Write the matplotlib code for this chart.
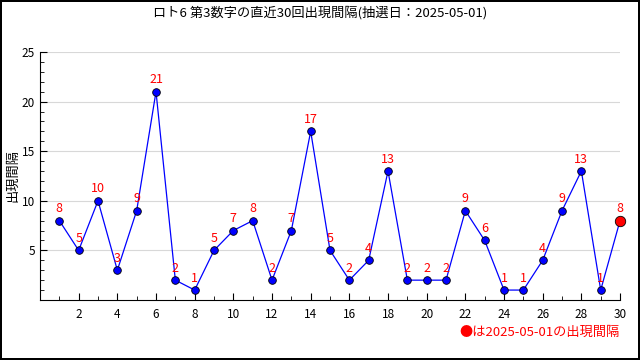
import matplotlib
matplotlib.use("Agg")
import matplotlib.pyplot as plt
from matplotlib.ticker import MultipleLocator

plt.rcParams['font.family'] = ['Noto Sans CJK JP', 'DejaVu Sans']

# データ
kaisu = list(range(1, 31))
kankaku = [8, 5, 10, 3, 9, 21, 2, 1, 5, 7, 8, 2, 7, 17, 5, 2, 4, 13,
           2, 2, 2, 9, 6, 1, 1, 4, 9, 13, 1, 8]
title = "ロト6 第3数字の直近30回出現間隔(抽選日：2025-05-01)"
last_date = "2025-05-01"

fig = plt.figure(figsize=(6.4, 3.6), dpi=100)
fig.patch.set_edgecolor('black')
fig.patch.set_linewidth(1.5)
ax = fig.add_axes([0.0625, 0.1667, 0.9063, 0.6889])

ax.plot(kaisu, kankaku, color='blue', lw=0.9, marker='o', ms=5.5,
        mfc='blue', mec='black', mew=0.6, zorder=3, clip_on=False)
# 最新回は赤
ax.plot(kaisu[-1], kankaku[-1], 'o', ms=7.5, mfc='red', mec='black', mew=0.6,
        zorder=4, clip_on=False)

for x, y in zip(kaisu, kankaku):
    ax.text(x, y + 0.55, str(y), color='red', ha='center', va='bottom', fontsize=9)

ax.set_xlim(0, 30)
ax.set_ylim(0, 25)
ax.xaxis.set_minor_locator(MultipleLocator(1))
ax.yaxis.set_minor_locator(MultipleLocator(1))
ax.set_xticks(range(2, 31, 2))
ax.set_yticks([5, 10, 15, 20, 25])
ax.tick_params(which='both', direction='in', labelsize=8.5, top=False, right=False)
ax.tick_params(which='major', length=5)
ax.tick_params(which='minor', length=3)
ax.tick_params(axis='x', pad=6)
ax.grid(axis='y', color='#d8d8d8', lw=0.8)
ax.set_axisbelow(True)
ax.spines['top'].set_visible(False)
ax.spines['right'].set_visible(False)
ax.set_ylabel("出現間隔", fontsize=9.5, labelpad=2)

fig.text(0.5, 0.965, title, ha='center', va='center', fontsize=9.5)
fig.text(0.968, 0.078, "●は" + last_date + "の出現間隔", color='red',
         ha='right', va='center', fontsize=9.5)

fig.savefig("out.png", dpi=100, facecolor='white', edgecolor='black')
